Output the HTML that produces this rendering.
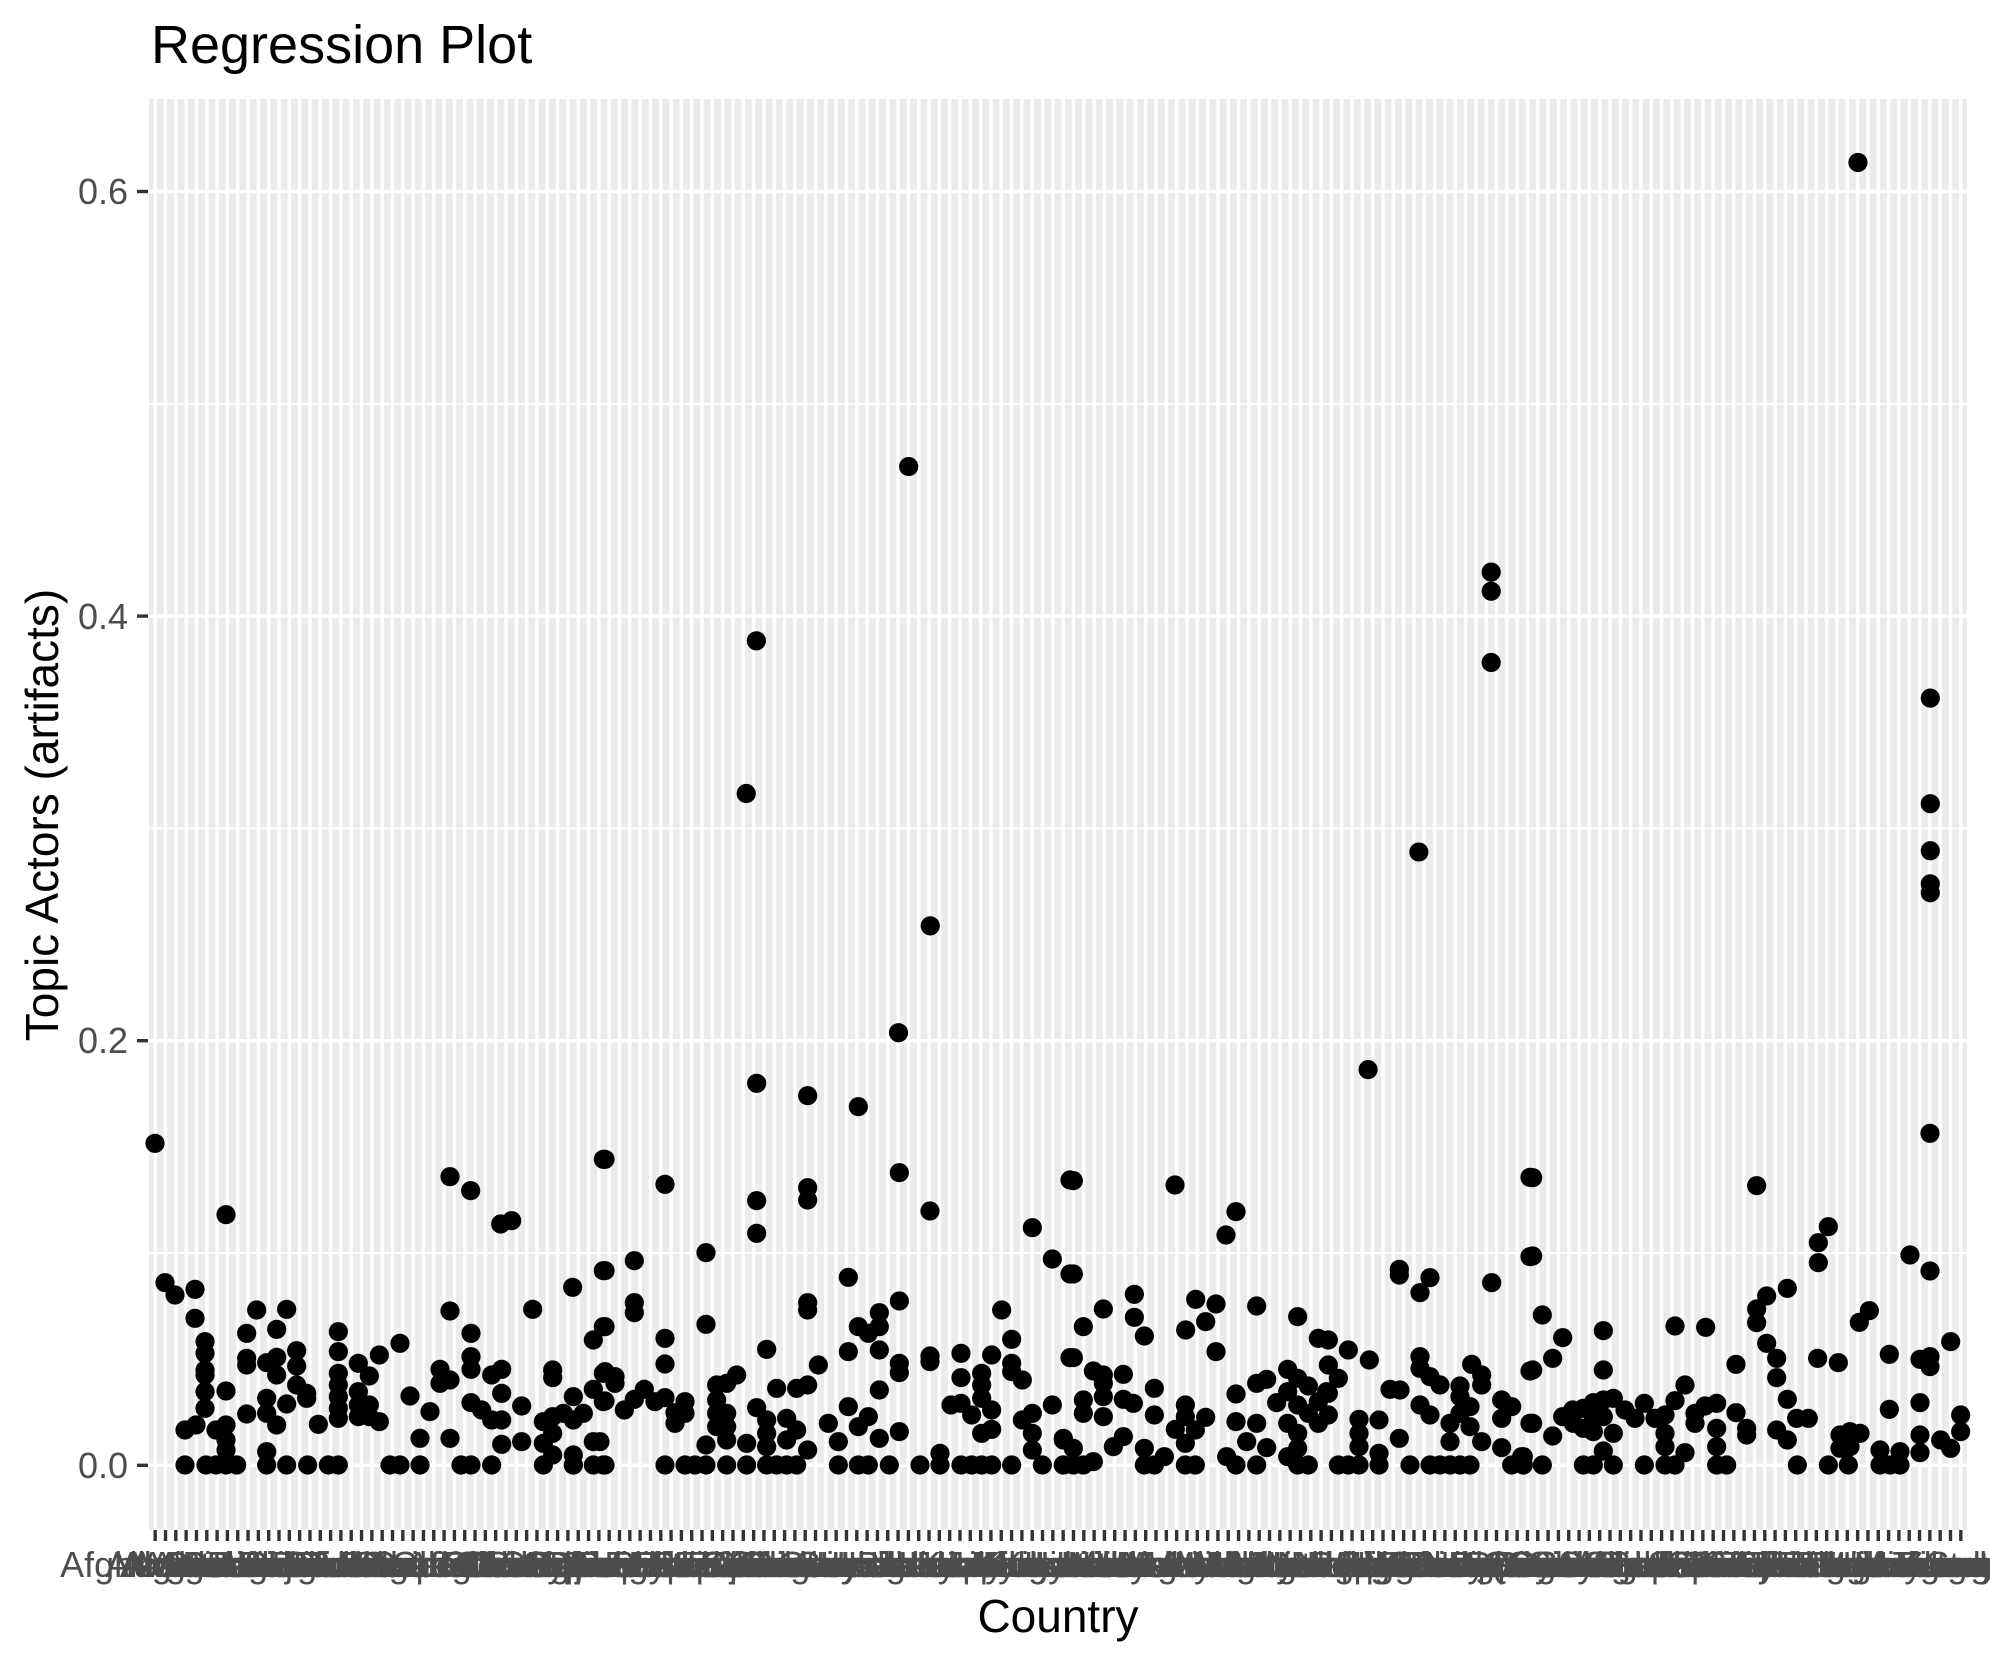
<!DOCTYPE html>
<html><head><meta charset="utf-8">
<style>
html,body{margin:0;padding:0;background:#fff;}
svg{display:block;}
text{font-family:"Liberation Sans",Arial,sans-serif;}
</style></head>
<body>
<svg id="s" width="1990" height="1665" xmlns="http://www.w3.org/2000/svg">
<rect x="0" y="0" width="1990" height="1665" fill="#fff"/>
<rect x="149" y="99" width="1818" height="1431" fill="#EBEBEB"/>
<g id="grid"></g>
<g id="ticks"></g>
<g id="pts"></g>
<g id="xl" font-size="36" fill="#4D4D4D" text-anchor="middle"></g>
<g font-size="36" fill="#4D4D4D" text-anchor="end">
<text x="128" y="1478">0.0</text>
<text x="128" y="1053">0.2</text>
<text x="128" y="629">0.4</text>
<text x="128" y="204">0.6</text>
</g>
<text x="151" y="63" font-size="54" fill="#000">Regression Plot</text>
<text x="1058" y="1632" font-size="46" fill="#000" text-anchor="middle">Country</text>
<text transform="translate(58,815) rotate(-90)" font-size="46" fill="#000" text-anchor="middle">Topic Actors (artifacts)</text>
</svg>
<script>
var NS="http://www.w3.org/2000/svg";
function el(p,t,a){var e=document.createElementNS(NS,t);for(var k in a)e.setAttribute(k,a[k]);p.appendChild(e);return e;}
var grid=document.getElementById('grid'),ticks=document.getElementById('ticks'),pts=document.getElementById('pts'),xl=document.getElementById('xl');
var y0=1465.3,dy=2123;
// minor horizontal
[0.1,0.3,0.5].forEach(function(v){el(grid,'rect',{x:149,y:y0-v*dy-0.9,width:1818,height:1.8,fill:'#fff'});});
[0,0.2,0.4,0.6].forEach(function(v){var y=y0-v*dy;el(grid,'rect',{x:149,y:y-1.7,width:1818,height:3.4,fill:'#fff'});
 el(ticks,'rect',{x:137,y:y-1.7,width:11,height:3.4,fill:'#333'});});
var names="Afghanistan,Albania,Algeria,Andorra,Angola,Argentina,Armenia,Australia,Austria,Azerbaijan,Bahamas,Bahrain,Bangladesh,Barbados,Belarus,Belgium,Belize,Benin,Bhutan,Bolivia,Bosnia and Herzegovina,Botswana,Brazil,Brunei,Bulgaria,Burkina Faso,Burundi,Cambodia,Cameroon,Canada,Cape Verde,Central African Republic,Chad,Chile,China,Colombia,Comoros,Congo,Costa Rica,Croatia,Cuba,Cyprus,Czech Republic,Denmark,Djibouti,Dominica,Dominican Republic,Ecuador,Egypt,El Salvador,Equatorial Guinea,Eritrea,Estonia,Eswatini,Ethiopia,Fiji,Finland,France,Gabon,Gambia,Georgia,Germany,Ghana,Greece,Grenada,Guatemala,Guinea,Guinea-Bissau,Guyana,Haiti,Honduras,Hungary,Iceland,India,Indonesia,Iran,Iraq,Ireland,Israel,Italy,Jamaica,Japan,Jordan,Kazakhstan,Kenya,Kiribati,Kosovo,Kuwait,Kyrgyzstan,Laos,Latvia,Lebanon,Lesotho,Liberia,Libya,Liechtenstein,Lithuania,Luxembourg,Madagascar,Malawi,Malaysia,Maldives,Mali,Malta,Mauritania,Mauritius,Mexico,Moldova,Monaco,Mongolia,Montenegro,Morocco,Mozambique,Myanmar,Namibia,Nepal,Netherlands,New Zealand,Nicaragua,Niger,Nigeria,North Korea,North Macedonia,Norway,Oman,Pakistan,Panama,Papua New Guinea,Paraguay,Peru,Philippines,Poland,Portugal,Qatar,Romania,Russia,Rwanda,Samoa,San Marino,Saudi Arabia,Senegal,Serbia,Seychelles,Sierra Leone,Singapore,Slovakia,Slovenia,Somalia,South Africa,South Korea,South Sudan,Spain,Sri Lanka,Sudan,Suriname,Sweden,Switzerland,Syria,Taiwan,Tajikistan,Tanzania,Thailand,Togo,Tonga,Trinidad and Tobago,Tunisia,Turkey,Turkmenistan,Uganda,Ukraine,United Kingdom,United States,Uruguay,Venezuela,Yemen,Zambia,Italy".split(',');
var n=176,step=1818/(n+0.2);
for(var i=0;i<n;i++){var x=149+(0.6+i)*step;
 el(grid,'rect',{x:x-1.7,y:99,width:3.4,height:1431,fill:'#fff'});
 el(ticks,'rect',{x:x-1.7,y:1530,width:3.4,height:11,fill:'#333'});
 var t=el(xl,'text',{x:x,y:1577});t.textContent=names[i%names.length];}
var Z=[
[140,1080,[45,190,258,404,930,290,992,332,1082,432,1115,422,1390,238,75,608,105,645,165,628,165,715,350,690,440,688,320,760,410,748,595,755,780,790,718,825,930,693,993,760,1178,688,1298,622,1390,572,
195,785,195,820,195,870,195,885,195,935,195,985,258,933,320,835,320,855,380,848,410,832,410,885,470,812,470,858,470,915,500,940,500,955,
595,815,595,880,595,915,595,950,595,985,595,1015,655,850,688,888,655,935,655,975,688,975,655,1010,688,1010,718,1025,
380,955,380,1000,410,1035,440,972,320,1002,535,1033,810,948,870,995,840,1075,930,1075,
900,868,900,910,930,900,993,830,993,868,993,968,1025,990,1055,1020,1055,885,1085,868,1085,940,1085,1020,1085,1093,1145,978,1145,1085,
1238,870,1238,893,1210,1025,1238,1010,1270,1000,1300,1020,1330,1000,1238,1060,1210,1090,1238,1125,1300,950,1360,780,1390,740,1360,928,1390,880,1390,965,1360,1085,1300,1125,
135,1050,168,1035,228,1050,258,1035,258,1080,258,1110,380,1115,1300,1155,
135,1155,198,1155,228,1155,258,1155,290,1155,380,1155,440,1155,503,1155,565,1155,595,1155,750,1155,780,1155,840,1155,963,1155,993,1155,1055,1155,1210,1155,1300,1155,1360,1155,1390,1155]],
[600,1080,[470,10,623,47,775,80,15,238,195,313,470,362,623,323,623,360,898,278,470,460,990,393,1297,443,1410,300,
318,518,103,542,15,572,745,592,1357,537,1410,582,103,668,103,698,623,668,623,690,898,663,1205,690,318,733,15,740,838,698,775,740,805,760,838,740,
195,775,195,852,500,808,745,815,838,810,655,855,898,850,898,878,990,828,990,845,1083,820,1175,825,1235,778,1235,850,1235,875,1267,900,1410,833,
15,875,45,890,45,910,15,963,133,928,103,958,73,990,165,965,195,953,255,965,225,998,255,1000,225,1030,
350,915,380,910,410,885,350,960,350,1000,380,1000,380,1040,350,1040,318,1095,380,1080,
470,983,500,1020,500,1060,530,925,590,925,623,915,560,1015,590,1050,560,1080,623,1110,500,1100,440,1090,
745,980,805,1010,775,1040,685,1030,715,1085,838,930,838,1075,898,1055,
1083,893,1145,880,1145,915,1145,955,1053,975,1083,970,1115,1005,1175,990,1145,1060,1175,1048,1267,1020,1297,1000,1297,1060,1297,1110,1357,975,1390,1080,1020,1120,0,1085,
15,1155,195,1155,255,1155,285,1155,318,1155,380,1155,440,1155,500,1155,530,1155,560,1155,590,1155,715,1155,775,1155,805,1155,868,1155,960,1155,1020,1155,1083,1155,1115,1155,1145,1155,1175,1155,1235,1155,1327,1155,1390,1155]],
[1060,1080,[40,302,345,315,528,395,498,465,1410,292,1410,530,40,582,1018,568,1018,585,1110,593,1080,638,1295,608,
223,643,223,712,130,687,70,740,253,768,407,658,468,672,377,750,437,725,590,678,713,710,468,815,40,833,
775,775,805,780,865,810,928,840,805,855,835,895,683,868,713,895,745,918,800,935,1080,830,1080,865,1110,890,1140,915,1235,853,1265,885,1265,915,1200,918,990,928,1020,930,1410,873,
100,873,130,885,190,883,70,960,130,910,130,950,70,1000,130,1010,190,958,220,970,283,925,283,1005,
376,975,376,1010,346,1048,406,1050,437,1012,376,1090,
528,942,590,910,620,898,650,968,683,935,713,975,745,1000,775,965,805,940,805,1005,775,1030,
528,1025,590,1030,560,1085,620,1103,683,1030,713,1060,713,1105,683,1130,
897,1018,897,1060,897,1100,957,1020,957,1120,1018,1075,1080,975,1110,1005,1170,1030,1170,1085,1200,1000,1200,950,1230,980,1230,1040,1265,1085,1325,960,1355,980,1325,1015,1325,1103,1410,1030,1385,1130,
10,1075,40,1105,160,1100,190,1070,253,1105,313,1130,100,1145,500,1130,
10,1155,40,1155,70,1155,253,1155,283,1155,376,1155,406,1155,528,1155,590,1155,713,1155,745,1155,835,1155,865,1155,897,1155,957,1155,1050,1155,1110,1155,1140,1155,1170,1155,1200,1155,1230,1155,1355,1155]],
[1520,1080,[38,293,710,317,1230,160,925,440,895,488,38,528,895,548,1170,525,1230,573,
740,648,802,625,710,687,710,728,1048,692,1018,727,67,705,128,773,250,752,465,738,557,742,98,835,38,870,250,870,740,790,770,835,770,893,648,853,893,835,955,848,1108,823,1200,838,1230,830,1230,860,1292,785,
495,915,465,962,373,970,250,960,280,955,220,968,190,985,158,990,128,1010,160,1030,190,1045,220,1055,220,1020,250,1010,280,1060,315,990,345,1015,405,1015,435,1005,435,1060,435,1100,525,1000,525,1030,555,978,590,970,590,1045,590,1100,648,998,680,1045,680,1065,802,958,830,1015,865,1015,770,1050,802,1080,38,1030,98,1068,250,1113,495,1118,
960,1065,990,1055,1020,1060,960,1105,990,1100,1108,988,1200,968,1200,1065,1200,1118,1262,1080,1292,1105,1322,1005,1322,1055,1080,1110,1140,1115,
10,1130,10,1155,67,1155,190,1155,220,1155,280,1155,373,1155,435,1155,465,1155,590,1155,620,1155,832,1155,925,1155,985,1155,1080,1155,1110,1155,1140,1155]]
];
Z.forEach(function(g){var ox=g[0],oy=g[1],a=g[2];for(var j=0;j<a.length;j+=2){el(pts,'circle',{cx:ox+a[j]/3,cy:oy+a[j+1]/3,r:9.6,fill:'#000'});}});
var D=[588,625,596,505,716,368,733,729,708,813,1078,842,1175,451,1175,466,1175,522,1118,671,1464,129,1521,550,1521,633,1521,670,1521,696,1521,703];
for(var j=0;j<D.length;j+=2){el(pts,'circle',{cx:D[j]*1.2691,cy:1465.3+(D[j+1]-1153)*1.2723,r:9.6,fill:'#000'});}
</script>
</body></html>
